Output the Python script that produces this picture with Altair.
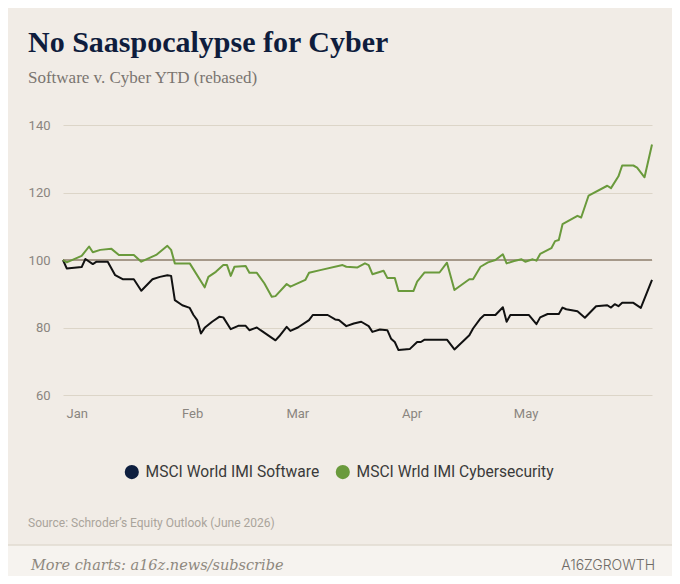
import altair as alt
import pandas as pd

SERIES = ["MSCI World IMI Software", "MSCI Wrld IMI Cybersecurity"]
LINE_COLORS = ["#111111", "#6a9a3c"]
LEGEND_COLORS = ["#0e1f3f", "#6a9a3c"]

software_dates = [
    "2026-01-01", "2026-01-02", "2026-01-06", "2026-01-07", "2026-01-09", "2026-01-10",
    "2026-01-13", "2026-01-15", "2026-01-17", "2026-01-20", "2026-01-22", "2026-01-25",
    "2026-01-27", "2026-01-29", "2026-01-30", "2026-01-31", "2026-02-02", "2026-02-04",
    "2026-02-05", "2026-02-06", "2026-02-07", "2026-02-08", "2026-02-10", "2026-02-12",
    "2026-02-13", "2026-02-15", "2026-02-17", "2026-02-19", "2026-02-20", "2026-02-22",
    "2026-02-23", "2026-02-27", "2026-02-28", "2026-03-02", "2026-03-03", "2026-03-05",
    "2026-03-08", "2026-03-09", "2026-03-13", "2026-03-15", "2026-03-16", "2026-03-18",
    "2026-03-20", "2026-03-22", "2026-03-24", "2026-03-25", "2026-03-27", "2026-03-29",
    "2026-03-30", "2026-03-31", "2026-04-01", "2026-04-04", "2026-04-06", "2026-04-07",
    "2026-04-08", "2026-04-14", "2026-04-16", "2026-04-20", "2026-04-21", "2026-04-23",
    "2026-04-24", "2026-04-27", "2026-04-29", "2026-04-30", "2026-05-01", "2026-05-06",
    "2026-05-08", "2026-05-09", "2026-05-11", "2026-05-14", "2026-05-15", "2026-05-16",
    "2026-05-19", "2026-05-21", "2026-05-24", "2026-05-27", "2026-05-28", "2026-05-29",
    "2026-05-30", "2026-05-31", "2026-06-03", "2026-06-05", "2026-06-08",
]
software_values = [
    100.0, 97.5, 97.9, 100.3, 98.8, 99.5,
    99.5, 95.5, 94.3, 94.3, 90.9, 94.3,
    95.0, 95.5, 95.3, 88.1, 86.6, 85.8,
    83.7, 82.2, 78.2, 79.9, 81.7, 83.2,
    83.0, 79.5, 80.5, 80.5, 79.2, 80.0,
    79.2, 76.2, 77.4, 80.2, 79.0, 80.0,
    82.2, 83.7, 83.7, 82.4, 82.2, 80.4,
    81.2, 81.7, 80.4, 78.7, 79.4, 79.2,
    76.7, 75.7, 73.3, 73.6, 75.7, 75.7,
    76.4, 76.4, 73.5, 77.7, 79.7, 82.7,
    83.7, 83.7, 86.0, 81.7, 83.7, 83.7,
    81.0, 83.0, 84.0, 84.0, 85.9, 85.4,
    84.8, 82.9, 86.3, 86.6, 85.9, 86.9,
    86.3, 87.3, 87.3, 85.8, 94.1,
]

cyber_dates = [
    "2026-01-01", "2026-01-02", "2026-01-06", "2026-01-08", "2026-01-09", "2026-01-11",
    "2026-01-14", "2026-01-16", "2026-01-20", "2026-01-22", "2026-01-26", "2026-01-29",
    "2026-01-30", "2026-01-31", "2026-02-04", "2026-02-08", "2026-02-09", "2026-02-11",
    "2026-02-13", "2026-02-14", "2026-02-15", "2026-02-16", "2026-02-19", "2026-02-20",
    "2026-02-22", "2026-02-24", "2026-02-26", "2026-02-27", "2026-03-02", "2026-03-03",
    "2026-03-07", "2026-03-08", "2026-03-11", "2026-03-17", "2026-03-18", "2026-03-21",
    "2026-03-23", "2026-03-24", "2026-03-25", "2026-03-28", "2026-03-29", "2026-03-31",
    "2026-04-01", "2026-04-05", "2026-04-06", "2026-04-08", "2026-04-12", "2026-04-14",
    "2026-04-16", "2026-04-20", "2026-04-21", "2026-04-23", "2026-04-25", "2026-04-27",
    "2026-04-29", "2026-04-30", "2026-05-02", "2026-05-04", "2026-05-05", "2026-05-07",
    "2026-05-08", "2026-05-09", "2026-05-12", "2026-05-13", "2026-05-14", "2026-05-15",
    "2026-05-19", "2026-05-20", "2026-05-22", "2026-05-27", "2026-05-28", "2026-05-30",
    "2026-05-31", "2026-06-03", "2026-06-04", "2026-06-06", "2026-06-08",
]
cyber_values = [
    100.0, 99.3, 101.2, 104.0, 102.3, 103.0,
    103.3, 101.5, 101.5, 99.5, 101.5, 104.2,
    103.0, 99.0, 99.0, 91.9, 95.0, 96.5,
    98.5, 98.5, 95.3, 98.0, 98.2, 96.2,
    96.2, 93.1, 89.1, 89.3, 92.9, 92.1,
    94.1, 96.2, 97.0, 98.5, 98.0, 97.8,
    99.0, 98.5, 95.8, 96.8, 94.7, 94.7,
    90.8, 90.8, 93.6, 96.3, 96.3, 99.2,
    91.1, 94.3, 94.3, 98.0, 99.3, 100.0,
    101.7, 99.0, 99.7, 100.2, 99.5, 100.2,
    99.8, 101.8, 103.5, 105.6, 105.9, 110.6,
    113.1, 112.6, 119.1, 122.0, 121.3, 124.8,
    128.0, 128.0, 127.4, 124.5, 134.2,
]

month_ticks = [(2026, 1), (2026, 2), (2026, 3), (2026, 4), (2026, 5)]
y_ticks = [60, 80, 100, 120, 140]
baseline = [100]

TITLE = "No Saaspocalypse for Cyber"
SUBTITLE = "Software v. Cyber YTD (rebased)"
SOURCE = "Source: Schroder\u2019s Equity Outlook (June 2026)"
FOOTER = "More charts: a16z.news/subscribe"
LOGO = "A16ZGROWTH"

df = pd.concat([
    pd.DataFrame({"date": software_dates, "value": software_values, "series": SERIES[0]}),
    pd.DataFrame({"date": cyber_dates, "value": cyber_values, "series": SERIES[1]}),
], ignore_index=True)

W, H = 589, 270
PAD = {"left": 55, "top": 117, "right": 20, "bottom": 181}
Y_SCALE = alt.Scale(domain=[60, 140], nice=False, zero=False)

x_enc = alt.X(
    "date:T",
    scale=alt.Scale(nice=False),
    axis=alt.Axis(
        values=[alt.DateTime(year=y, month=m, date=1, utc=True) for y, m in month_ticks],
        labelExpr="utcFormat(datum.value, '%b')", labelAlign="left", labelOffset=3,
        labelPadding=12, ticks=False, domain=False, grid=False, title=None,
        labelFontSize=13, labelFont="Roboto", labelColor="#8a857f",
    ),
)
y_enc = alt.Y(
    "value:Q",
    scale=Y_SCALE,
    axis=alt.Axis(
        values=y_ticks, ticks=False, domain=False, grid=True, title=None,
        gridColor="#dcd5c8", gridWidth=1, labelPadding=13,
        labelFontSize=13, labelFont="Roboto", labelColor="#8a857f",
    ),
)

rule = alt.Chart(pd.DataFrame({"v": baseline})).mark_rule(
    color="#a6998a", strokeWidth=2
).encode(y=alt.Y("v:Q", scale=Y_SCALE))

lines = alt.Chart(df).mark_line(strokeWidth=2, strokeJoin="round").encode(
    x=x_enc,
    y=y_enc,
    color=alt.Color("series:N", scale=alt.Scale(domain=SERIES, range=LINE_COLORS), legend=None),
)

legend_layer = alt.Chart(df).mark_point(
    filled=True, shape="circle", opacity=0
).encode(
    x=alt.X("date:T"),
    y=alt.Y("value:Q"),
    color=alt.Color(
        "series:N",
        scale=alt.Scale(domain=SERIES, range=LEGEND_COLORS),
        legend=alt.Legend(
            title=None, orient="none", legendX=61, legendY=339, direction="horizontal",
            symbolType="circle", symbolSize=200, symbolStrokeWidth=0, symbolOpacity=1,
            labelFont="Roboto", labelFontSize=15.6, labelColor="#3a3a3a", labelLimit=0,
            labelOffset=6, columnPadding=15,
        ),
    ),
)

band = alt.Chart(pd.DataFrame({"a": [0]})).mark_rect(color="#f6f3ef").encode(
    x=alt.value(-55), x2=alt.value(609), y=alt.value(420), y2=alt.value(451)
)
band_line = alt.Chart(pd.DataFrame({"a": [0]})).mark_rule(color="#e1dbd0", strokeWidth=1.5).encode(
    x=alt.value(-55), x2=alt.value(609), y=alt.value(420)
)
source = alt.Chart(pd.DataFrame({"t": [SOURCE]})).mark_text(
    align="left", baseline="middle", font="Roboto", fontSize=12, color="#aaa49b"
).encode(x=alt.value(-35), y=alt.value(398), text="t:N")
footer = alt.Chart(pd.DataFrame({"t": [FOOTER]})).mark_text(
    align="left", baseline="middle", font="DejaVu Serif", fontStyle="italic",
    fontSize=14.5, color="#8e887e"
).encode(x=alt.value(-32), y=alt.value(441), text="t:N")
logo = alt.Chart(pd.DataFrame({"t": [LOGO]})).mark_text(
    align="right", baseline="middle", font="Inter", fontWeight=300,
    fontSize=14, color="#6f6b66"
).encode(x=alt.value(592), y=alt.value(441), text="t:N")

chart = alt.layer(rule, lines, legend_layer, band, band_line, source, footer, logo).resolve_scale(
    color="independent"
).properties(
    width=W, height=H,
    autosize=alt.AutoSizeParams(type="none"),
    padding=PAD,
    title=alt.TitleParams(
        text=TITLE, subtitle=SUBTITLE, anchor="start", frame="group",
        font="Liberation Serif", fontSize=30, fontWeight="bold", color="#0f1d3d",
        subtitleFont="Liberation Serif", subtitleFontSize=17, subtitleColor="#7a7570",
        subtitleFontWeight="normal", subtitlePadding=12, dx=-35, offset=33,
    ),
).configure(background="#f1ece6").configure_view(stroke=None)

chart.save("out.html", embed_options={"renderer": "svg", "actions": False})
